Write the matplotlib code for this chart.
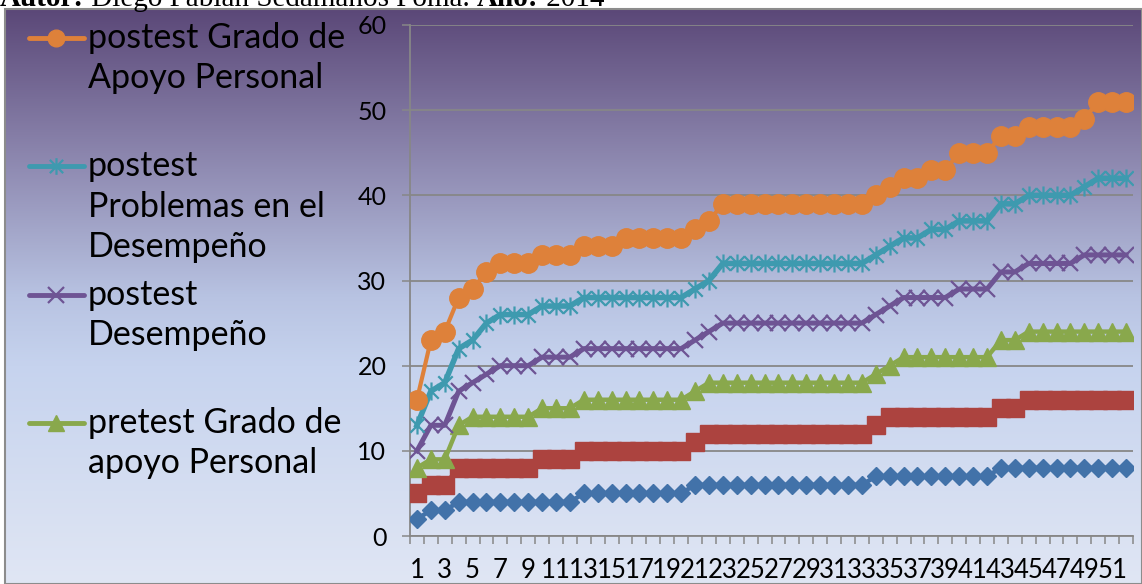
import numpy as np
import matplotlib
matplotlib.use('Agg')
import matplotlib.pyplot as plt
from matplotlib.colors import LinearSegmentedColormap
from matplotlib.lines import Line2D
from matplotlib.patches import Rectangle
from matplotlib.path import Path

W, H = 1142, 584

# categories (52 respondents)
cases = list(range(1, 53))

# series values
s_blue = [2, 3, 3] + [4] * 9 + [5] * 8 + [6] * 13 + [7] * 9 + [8] * 10
s_red = [5, 6, 6] + [8] * 6 + [9] * 3 + [10] * 8 + [11] + [12] * 12 + [13] + [14] * 8 + [15] * 2 + [16] * 8
pre_apoyo = [8, 9, 9, 13] + [14] * 5 + [15] * 3 + [16] * 8 + [17] + [18] * 12 + [19, 20] + [21] * 7 + [23] * 2 + [24] * 8
post_desemp = [10, 13, 13, 17, 18, 19] + [20] * 3 + [21] * 3 + [22] * 8 + [23, 24] + [25] * 11 + [26, 27] + [28] * 4 + [29] * 3 + [31] * 2 + [32] * 4 + [33] * 4
post_problemas = [13, 17, 18, 22, 23, 25] + [26] * 3 + [27] * 3 + [28] * 8 + [29, 30] + [32] * 11 + [33, 34, 35, 35, 36, 36] + [37] * 3 + [39] * 2 + [40] * 4 + [41] + [42] * 3
post_apoyo = [16, 23, 24, 28, 29, 31] + [32] * 3 + [33] * 3 + [34] * 3 + [35] * 5 + [36, 37] + [39] * 11 + [40, 41, 42, 42, 43, 43] + [45] * 3 + [47] * 2 + [48] * 4 + [49] + [51] * 3

legend_labels = ['postest Grado de\nApoyo Personal',
                 'postest\nProblemas en el\nDesempeño',
                 'postest\nDesempeño',
                 'pretest Grado de\napoyo Personal']

y_ticks = [0, 10, 20, 30, 40, 50, 60]

c_blue = '#4272A9'
c_red = '#AC433F'
c_green = '#89A84C'
c_purple = '#6E5494'
c_cyan = '#3E9AAF'
c_orange = '#DE813A'

star = Path([(0, -1), (0, 1), (-0.8, -0.8), (0.8, 0.8), (-0.8, 0.8), (0.8, -0.8)],
            [Path.MOVETO, Path.LINETO, Path.MOVETO, Path.LINETO, Path.MOVETO, Path.LINETO])

font = ['Lato', 'DejaVu Sans']
plt.rcParams['font.family'] = font


def fx(px):
    return px / W


def fy(py):
    return 1 - py / H


fig = plt.figure(figsize=(W / 100, H / 100), dpi=100)

# gradient background of the chart area
bg = fig.add_axes([fx(5), 0, 1 - fx(5), fy(9)])
grad = LinearSegmentedColormap.from_list('bg', [(0, '#5b4878'), (0.25, '#8b85ad'),
                                                (0.5, '#b8c3e2'), (0.62, '#c6d3ee'),
                                                (1.0, '#e0e6f4')])
bg.imshow(np.linspace(0, 1, 256).reshape(-1, 1), cmap=grad, aspect='auto',
          extent=[0, 1, 0, 1], origin='upper')
bg.set_xlim(0, 1)
bg.set_ylim(0, 1)
bg.axis('off')
bg.add_patch(Rectangle((0, 0), 1, 1, transform=bg.transAxes, fill=False,
                       edgecolor='#8c8c8c', lw=1.5, clip_on=False))

ax = fig.add_axes([fx(410), 1 - 536 / H, fx(1133) - fx(410), (536 - 25) / H])
ax.set_facecolor('none')

ax.plot(cases, s_blue, color=c_blue, lw=3.2, marker='D', ms=9, mec=c_blue, zorder=3)
ax.plot(cases, s_red, color=c_red, lw=3.2, marker='s', ms=13.5, mec=c_red, zorder=4)
ax.plot(cases, pre_apoyo, color=c_green, lw=3.2, marker='^', ms=13, mec=c_green, zorder=5)
ax.plot(cases, post_desemp, color=c_purple, lw=3.6, marker='x', ms=12, mew=1.6, mec=c_purple, zorder=6)
ax.plot(cases, post_problemas, color=c_cyan, lw=4, marker=star, ms=13, mew=1.6, mec=c_cyan, zorder=7)
ax.plot(cases, post_apoyo, color=c_orange, lw=3, marker='o', ms=14, mec=c_orange, zorder=8)

ax.set_xlim(0.5, 52.5)
ax.set_ylim(0, 60)
ax.set_yticks(y_ticks)
ax.set_xticks(cases[::2])
ax.set_xticks(np.arange(0.5, 53, 1), minor=True)
ax.tick_params(axis='x', which='major', length=0, pad=16, labelsize=18.5)
ax.tick_params(axis='x', which='minor', length=6, width=1.1, color='#878787')
ax.tick_params(axis='y', length=6, width=1.1, color='#878787', pad=11, labelsize=18)
ax.grid(axis='y', color='#878787', lw=1.3)
ax.set_axisbelow(True)
for s in ['top', 'right']:
    ax.spines[s].set_visible(False)
for s in ['left', 'bottom']:
    ax.spines[s].set_color('#878787')
    ax.spines[s].set_linewidth(1.3)

# legend drawn by hand, Excel style with fixed slots
leg_styles = [dict(color=c_orange, marker='o', ms=12),
              dict(color=c_cyan, marker=star, ms=12, mew=1.6),
              dict(color=c_purple, marker='x', ms=12, mew=1.6),
              dict(color=c_green, marker='^', ms=12)]
for k, (lab, st) in enumerate(zip(legend_labels, leg_styles)):
    base = 48 + 128.3 * k
    yh = base - 10
    fig.add_artist(Line2D([fx(29), fx(84)], [fy(yh), fy(yh)], color=st['color'],
                          lw=3.5, solid_capstyle='round'))
    fig.add_artist(Line2D([fx(56)], [fy(yh)], ls='none', marker=st['marker'],
                          ms=st['ms'], mew=st.get('mew', 1), color=st['color']))
    for j, line in enumerate(lab.split('\n')):
        fig.text(fx(88), fy(base + 40.5 * j), line, fontsize=24.5, va='baseline', ha='left')

# author line at the very top (partly cut off, as in the source)
parts = [('Autor:', 'bold'), (' Diego Fabián Sedamanos Poma. ', 'normal'),
         ('Año:', 'bold'), (' 2014', 'normal')]
fig.canvas.draw()
r = fig.canvas.get_renderer()
x0 = 0
for txt, wt in parts:
    t = fig.text(fx(x0), fy(6), txt, fontsize=21, fontweight=wt, va='baseline',
                 family=['Liberation Serif', 'DejaVu Serif'])
    x0 += t.get_window_extent(r).width

fig.savefig('out.png', dpi=100)
